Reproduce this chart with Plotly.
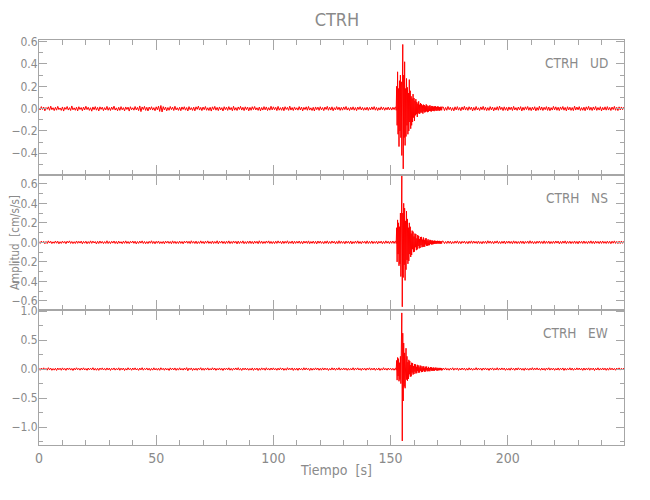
import numpy as np
import plotly.graph_objects as go
from plotly.subplots import make_subplots

# ---------------- data (amplitudes in thousandths of cm/s/s) ----------------
# sampling: pre-event every 0.5 s from 0 s, event every 0.2 s from 152.2 s, post-event every 0.5 s from 172.5 s
station = "CTRH"
components = ["UD", "NS", "EW"]

UD_pre = [
    5,-12,18,-8,14,-20,10,-6,16,-15,22,-10,8,-18,12,-14,20,-9,6,-16,
    15,-22,11,-7,19,-13,9,-17,24,-11,7,-15,13,-20,17,-8,10,-19,14,-12,
    21,-9,12,-16,8,-23,15,-10,18,-14,11,-21,16,-7,13,-18,9,-12,20,-15,
    10,-17,14,-9,22,-13,7,-19,12,-16,18,-11,9,-20,15,-8,13,-22,17,-10,
    8,-14,19,-12,11,-18,24,-27,15,-9,20,-16,12,-21,14,-10,17,-13,9,-19,
    16,-11,22,-25,28,-30,18,-12,14,-20,10,-15,19,-9,13,-17,21,-12,8,-16,
    12,-19,15,-8,17,-14,10,-21,18,-11,9,-16,13,-20,16,-7,22,-13,11,-18,
    14,-10,19,-15,8,-17,12,-22,16,-9,20,-14,11,-18,15,-12,9,-21,17,-10,
    13,-16,18,-11,10,-19,21,-14,9,-17,15,-8,20,-13,12,-18,16,-10,14,-20,
    11,-15,17,-9,19,-12,8,-16,14,-20,10,-13,18,-11,15,-17,9,-14,21,-12,
    16,-10,12,-18,20,-14,9,-15,13,-19,17,-8,11,-16,22,-13,10,-17,15,-11,
    8,-14,18,-12,14,-20,11,-9,16,-15,19,-13,7,-17,12,-21,15,-10,13,-16,
    17,-11,10,-18,14,-8,20,-15,12,-13,16,-19,9,-12,18,-10,13,-16,11,-14,
    15,-9,19,-13,8,-17,12,-11,16,-14,10,-18,14,-8,17,-12,11,-15,9,-13,
    13,-16,10,-12,15,-9,18,-14,11,-17,8,-13,16,-10,12,-15,9,-11,14,-12,
    10,-13,12,-9,15,
]
UD_evt = [
    12,-15,200,-150,330,-230,180,-340,250,-200,
    300,-260,240,-420,360,575,-540,300,-260,420,
    -330,180,-250,270,-150,190,-230,140,-200,260,
    -120,160,-180,110,-150,90,-120,130,-80,95,
    -110,70,-60,85,-50,60,-75,45,-40,65,
    -48,35,-42,50,-30,40,-38,28,-45,36,
    -26,32,-35,22,-30,38,-24,28,-32,20,
    -27,25,-20,30,-23,18,-26,24,-19,22,
    -21,17,-23,20,-16,21,-18,15,-20,19,
    -15,18,-17,14,-19,16,-13,17,-15,14,
]
UD_post = [
    14,-18,11,-15,19,-10,13,-17,9,-20,16,-12,18,-14,10,-19,15,-11,21,-13,
    12,-16,17,-9,14,-21,11,-15,19,-12,8,-17,15,-10,20,-14,13,-18,9,-16,
    18,-11,14,-20,10,-13,17,-15,22,-9,12,-18,16,-14,11,-19,15,-10,13,-17,
    20,-12,9,-16,14,-11,18,-21,12,-14,16,-9,19,-15,11,-18,13,-12,17,-20,
    10,-15,21,-13,15,-17,12,-10,18,-16,14,-19,9,-13,20,-11,16,-15,12,-18,
    15,-9,19,-14,11,-20,17,-12,13,-16,10,-18,22,-13,14,-11,18,-17,9,-15,
    13,-19,16,-10,20,-14,12,-17,15,-11,19,-16,10,-13,17,-20,11,-12,16,-14,
    18,-13,11,-17,14,-9,20,-15,12,-18,16,-12,15,-10,13,
]

NS_pre = [
    8,-11,13,-6,10,-14,9,-12,15,-7,11,-13,6,-10,14,-9,12,-15,7,-11,
    13,-8,10,-14,12,-6,15,-11,9,-13,7,-12,14,-10,11,-8,13,-15,10,-9,
    12,-14,8,-11,15,-10,13,-7,9,-16,11,-12,14,-9,10,-13,8,-11,16,-12,
    9,-13,11,-8,14,-12,10,-15,13,-9,7,-14,12,-10,15,-11,9,-13,11,-7,
    14,-10,12,-16,9,-11,13,-8,15,-12,10,-14,8,-13,11,-9,16,-12,10,-15,
    11,-9,14,-13,7,-12,10,-15,13,-8,12,-11,9,-14,15,-10,11,-13,8,-12,
    13,-11,9,-15,12,-7,14,-10,11,-13,16,-9,10,-12,13,-14,8,-11,15,-10,
    10,-14,12,-9,15,-11,8,-13,14,-12,9,-10,16,-15,11,-8,13,-12,10,-14,
    12,-10,15,-13,9,-11,14,-8,11,-16,13,-12,10,-9,15,-14,8,-13,12,-11,
    14,-12,10,-15,13,-9,11,-14,16,-10,12,-13,9,-11,14,-8,15,-12,10,-13,
    9,-13,12,-11,15,-8,10,-14,13,-12,11,-9,16,-13,8,-10,14,-15,12,-11,
    11,-9,14,-12,10,-15,13,-8,12,-11,15,-14,9,-10,13,-12,11,-16,14,-9,
    13,-11,8,-14,12,-10,15,-13,9,-12,14,-8,11,-15,10,-13,16,-11,12,-10,
    10,-15,13,-9,11,-12,14,-16,8,-11,13,-10,15,-12,9,-14,12,-8,11,-13,
    15,-12,10,-11,14,-13,9,-10,12,-15,11,-8,13,-14,10,-12,15,-9,11,-13,
    12,-10,14,-11,13,
]
NS_evt = [
    10,-12,150,-200,230,-120,200,-240,160,-220,
    300,-350,210,680,-660,300,-360,400,-230,350,
    -390,220,-280,320,-180,240,-220,150,-190,200,
    -120,160,-150,90,-130,120,-70,110,-100,60,
    -95,90,-50,85,-80,40,-72,75,-38,65,
    -62,35,-58,55,-30,56,-50,28,-45,50,
    -46,25,-44,40,-22,42,-36,20,-34,32,
    -30,18,-29,26,-16,24,-22,15,-21,20,
    -19,14,-17,18,-12,15,-17,14,-11,16,
    -13,14,-12,15,-13,12,-14,11,-12,13,
]
NS_post = [
    11,-13,9,-12,14,-10,12,-15,8,-11,13,-9,15,-12,10,-14,11,-8,13,-12,
    9,-14,12,-10,15,-11,13,-9,10,-13,14,-12,8,-15,11,-10,12,-13,16,-9,
    13,-11,10,-14,12,-8,15,-12,9,-13,11,-10,14,-15,12,-9,13,-11,10,-14,
    15,-10,11,-13,9,-12,14,-11,12,-15,10,-9,13,-12,16,-10,11,-14,9,-13,
    12,-9,14,-11,10,-13,15,-12,11,-10,13,-14,9,-12,12,-11,14,-8,13,-15,
    10,-12,13,-9,15,-14,11,-10,12,-13,9,-11,14,-12,10,-15,13,-9,11,-12,
    14,-11,9,-13,12,-10,15,-12,11,-14,13,-9,10,-13,12,-11,14,-10,9,-12,
    13,-10,11,-14,12,-9,15,-11,10,-13,12,-12,14,-10,11,
]

EW_pre = [
    14,-20,18,-11,22,-16,12,-19,24,-13,17,-21,10,-18,15,-23,19,-12,16,-20,
    21,-14,13,-22,18,-10,20,-17,12,-24,16,-15,23,-11,14,-19,17,-13,22,-16,
    11,-21,19,-14,16,-12,24,-18,13,-20,15,-22,18,-10,21,-16,12,-19,20,-14,
    17,-23,14,-11,20,-18,12,-15,22,-21,16,-13,19,-24,11,-17,23,-12,15,-20,
    19,-13,21,-16,10,-22,18,-14,24,-19,13,-11,20,-17,15,-23,12,-18,22,-15,
    13,-19,16,-21,23,-12,14,-20,18,-16,11,-24,21,-13,17,-15,20,-22,12,-18,
    22,-16,12,-18,19,-14,25,-28,16,-11,20,-23,13,-17,15,-21,18,-12,24,-19,
    15,-20,17,-13,21,-18,11,-16,23,-14,19,-22,12,-15,20,-17,14,-24,16,-12,
    18,-14,22,-19,13,-21,16,-11,20,-15,24,-18,12,-23,17,-13,19,-16,15,-20,
    12,-17,20,-22,15,-13,18,-24,14,-19,21,-11,16,-20,23,-15,13,-18,19,-14,
    21,-15,13,-20,17,-16,22,-12,18,-21,11,-19,24,-14,16,-13,20,-23,15,-17,
    16,-22,19,-13,12,-18,23,-15,20,-11,14,-24,17,-19,13,-16,21,-12,18,-20,
    14,-19,21,-16,18,-12,15,-23,11,-17,22,-14,19,-20,16,-13,24,-18,12,-15,
    20,-13,16,-21,14,-18,12,-15,23,-19,17,-11,21,-16,13,-22,18,-14,15,-20,
    17,-12,22,-18,15,-14,19,-21,13,-16,20,-23,11,-17,24,-15,14,-19,18,-13,
    16,-18,14,-20,15,
]
EW_evt = [
    15,-18,150,-190,200,-120,180,-210,110,-180,
    220,-250,300,970,-1240,620,-550,450,-300,280,
    -330,250,360,-180,220,-200,120,-170,160,-90,
    140,-130,70,-125,110,-60,105,-95,50,-85,
    88,-45,82,-75,40,-70,74,-35,64,-62,
    30,-58,62,-28,56,-52,26,-50,48,-25,
    47,-45,22,-44,42,-20,44,-38,18,-36,
    38,-35,17,-37,33,-16,32,-31,18,-28,
    30,-27,15,-28,25,-16,26,-23,14,-25,
    23,-21,15,-20,21,-14,20,-22,15,-20,
]
EW_post = [
    18,-14,21,-17,12,-20,16,-13,23,-19,15,-11,20,-22,14,-16,19,-12,17,-21,
    13,-18,22,-15,16,-20,11,-14,24,-17,19,-13,15,-21,18,-12,20,-16,14,-23,
    17,-11,21,-19,13,-15,23,-18,16,-14,20,-12,18,-22,12,-17,15,-20,21,-13,
    14,-21,19,-16,22,-12,17,-18,13,-23,20,-15,11,-19,16,-14,24,-17,18,-13,
    21,-15,12,-20,18,-16,14,-22,19,-11,23,-18,15,-13,17,-21,12,-16,20,-19,
    16,-12,20,-23,15,-18,13,-14,22,-17,18,-20,11,-15,21,-13,19,-16,14,-22,
    19,-17,15,-13,21,-20,16,-12,18,-24,14,-15,22,-18,13,-16,20,-14,17,-21,
    15,-19,22,-13,17,-16,12,-20,18,-14,21,-17,14,-12,19,
]

y_ranges = [[-0.595, 0.615], [-0.693, 0.69], [-1.31, 1.02]]
y_dticks = [0.2, 0.2, 0.5]
y_minor = [0.1, 0.1, 0.25]
x_range = [0, 249.6]

# ---------------- figure ----------------
series = [(UD_pre, UD_evt, UD_post), (NS_pre, NS_evt, NS_post), (EW_pre, EW_evt, EW_post)]

fig = make_subplots(rows=3, cols=1, shared_xaxes=True, vertical_spacing=0)

for i, (pre, evt, post) in enumerate(series):
    t = np.concatenate([
        np.arange(len(pre)) * 0.5,
        152.2 + np.arange(len(evt)) * 0.2,
        172.5 + np.arange(len(post)) * 0.5,
    ])
    y = np.array(pre + evt + post, dtype=float) / 1000.0
    fig.add_trace(go.Scatter(x=t, y=y, mode="lines",
                             line=dict(color="#ff0000", width=1),
                             hoverinfo="skip", showlegend=False),
                  row=i + 1, col=1)

axis_col = "#a6a6a6"
txt_col = "#8a8a8a"
narrow_fam = "Liberation Sans Narrow, DejaVu Sans Condensed, Roboto Condensed, Liberation Sans, sans-serif"

for i in range(3):
    fig.update_xaxes(row=i + 1, col=1, range=x_range, showline=True, linecolor=axis_col,
                     linewidth=1, mirror="allticks", ticks="inside", ticklen=10,
                     tickcolor=axis_col, tick0=0, dtick=50, showgrid=False, zeroline=False,
                     automargin=False,
                     minor=dict(dtick=10, ticklen=5, ticks="inside", tickcolor=axis_col),
                     tickfont=dict(family=narrow_fam, size=14, color=txt_col))
    fig.update_yaxes(row=i + 1, col=1, range=y_ranges[i], showline=True, linecolor=axis_col,
                     linewidth=1, mirror="allticks", ticks="inside", ticklen=8,
                     tickcolor=axis_col, tick0=0, dtick=y_dticks[i], tickformat=".1f",
                     showgrid=False, zeroline=False, automargin=False, ticklabelstandoff=-2,
                     minor=dict(dtick=y_minor[i], ticklen=4, ticks="inside", tickcolor=axis_col),
                     tickfont=dict(family=narrow_fam, size=12, color=txt_col))

# the page body adds an 8 px offset; the figure is sized so the plot sits where the reference has it
OFF = 8
W, H = 650 - OFF, 500 - OFF
L, T = 39 - OFF, 40 - OFF
R = W - (624 - OFF)
B = H - (445 - OFF)
pw, ph = W - L - R, H - T - B

def px2paper(x, y):
    # x, y in page pixels
    return (x - OFF - L) / pw, (H - B - (y - OFF)) / ph

nb = "\u00a0"
ann = []
for comp, ypx in zip(components, [63, 198, 333]):
    ax, ay = px2paper(610, ypx)
    ann.append(dict(text=f"{station}{nb*3}{comp}", x=ax, y=ay, xref="paper", yref="paper",
                    xanchor="right", yanchor="middle", showarrow=False,
                    font=dict(family=narrow_fam, size=13.5, color=txt_col)))
ax, ay = px2paper(15, 243)
ann.append(dict(text=f"Amplitud{nb*2}[cm/s/s]", x=ax, y=ay, xref="paper", yref="paper",
                xanchor="center", yanchor="middle", textangle=-90, showarrow=False,
                borderpad=0,
                font=dict(family=narrow_fam, size=11.5, color=txt_col)))
ax, ay = px2paper(336, 470)
ann.append(dict(text=f"Tiempo{nb*2}[s]", x=ax, y=ay, xref="paper", yref="paper",
                xanchor="center", yanchor="middle", showarrow=False,
                font=dict(family=narrow_fam, size=14, color=txt_col)))

fig.update_layout(
    width=W, height=H,
    margin=dict(l=L, r=R, t=T, b=B, autoexpand=False),
    paper_bgcolor="white", plot_bgcolor="white",
    title=dict(text=station, x=(337 - OFF) / W, y=1 - (20 - OFF) / H,
               xanchor="center", yanchor="middle", automargin=False,
               font=dict(family=narrow_fam, size=18, color=txt_col)),
    annotations=ann,
    showlegend=False,
)

fig.write_html("out.html")
